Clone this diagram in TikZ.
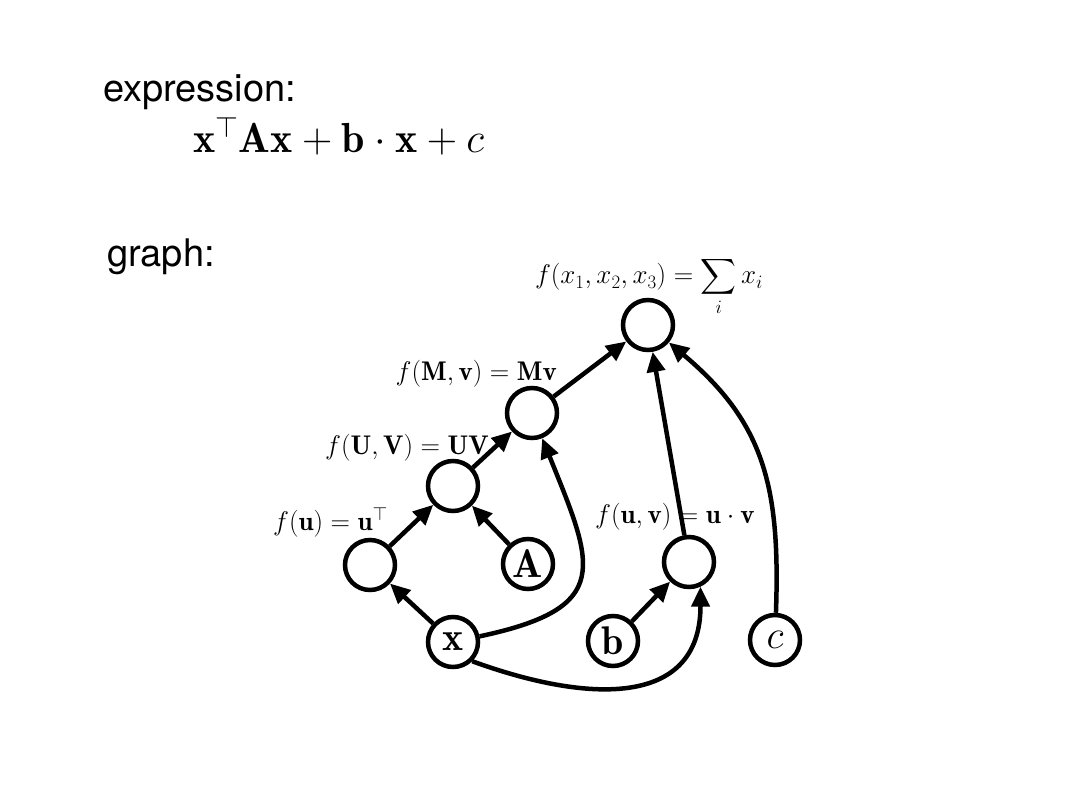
\RequirePackage{fix-cm}
\documentclass[tikz,border=0pt]{standalone}
\usepackage{amsmath}
\usepackage{fontspec}
\newfontfamily\headfont{TeX Gyre Heros}
\usetikzlibrary{arrows.meta}
\tikzset{var/.style={circle, draw, line width=4.5pt, minimum size=50pt, inner sep=0pt, font=\fontsize{40}{44}\selectfont}}
\tikzset{fn/.style={font=\fontsize{27}{32}\selectfont, inner sep=0pt}}
\tikzset{flow/.style={line width=4.5pt, -{Triangle[length=20pt, width=18pt]}}}
\tikzset{heading/.style={font=\headfont\fontsize{38}{44}\selectfont, inner sep=0pt, anchor=base west}}

\begin{document}
\begin{tikzpicture}[x=1pt, y=-1pt]
    \useasboundingbox (0,0) rectangle (1080,810);
    \node[heading] (expr) at (103,102) {expression:};
    \node[font=\fontsize{42}{48}\selectfont, inner sep=0pt, anchor=base west] (formula) at (193,153) {$\mathbf{x}^\top\mathbf{A}\mathbf{x}+\mathbf{b}\cdot\mathbf{x}+c$};
    \node[heading] (graph) at (107,267) {graph:};

    % inputs and operations
    \node[var] (sum) at (648,325) {};
    \node[var] (mv) at (532,413) {};
    \node[var] (uv) at (453,486) {};
    \node[var] (ut) at (370,565) {};
    \node[var] (A) at (528,564) {$\mathbf{A}$};
    \node[var] (dot) at (689,562) {};
    \node[var] (x) at (453,642) {$\mathbf{x}$};
    \node[var] (b) at (613,641) {$\mathbf{b}$};
    \node[var] (c) at (775,640) {$c$};

    \node[fn, anchor=base] (lsum) at (649,284) {$f(x_1,x_2,x_3) = \displaystyle\sum_i x_i$};
    \node[fn, anchor=base east] (lmv) at (557,381) {$f(\mathbf{M},\mathbf{v}) = \mathbf{M}\mathbf{v}$};
    \node[fn, anchor=base east] (luv) at (489,455) {$f(\mathbf{U},\mathbf{V}) = \mathbf{U}\mathbf{V}$};
    \node[fn, anchor=base east] (lut) at (388,530) {$f(\mathbf{u}) = \mathbf{u}^\top$};
    \node[fn, anchor=base west] (ldot) at (595,523) {$f(\mathbf{u},\mathbf{v}) = \mathbf{u}\cdot\mathbf{v}$};

    \draw[flow] (x) -- (ut);
    \draw[flow] (ut) -- (uv);
    \draw[flow] (A) -- (uv);
    \draw[flow] (uv) -- (mv);
    \draw[flow] (mv) -- (sum);
    \draw[flow] (x) to[out=12, in=-68, looseness=1.7] (mv);
    \draw[flow] (x.-45) to[out=-20, in=-90, looseness=1.3] (dot.-65);
    \draw[flow] (b) -- (dot);
    \draw[flow] (dot) -- (sum);
    \draw[flow] (c) to[out=88, in=-40, looseness=1.1] (sum);
\end{tikzpicture}
\end{document}
